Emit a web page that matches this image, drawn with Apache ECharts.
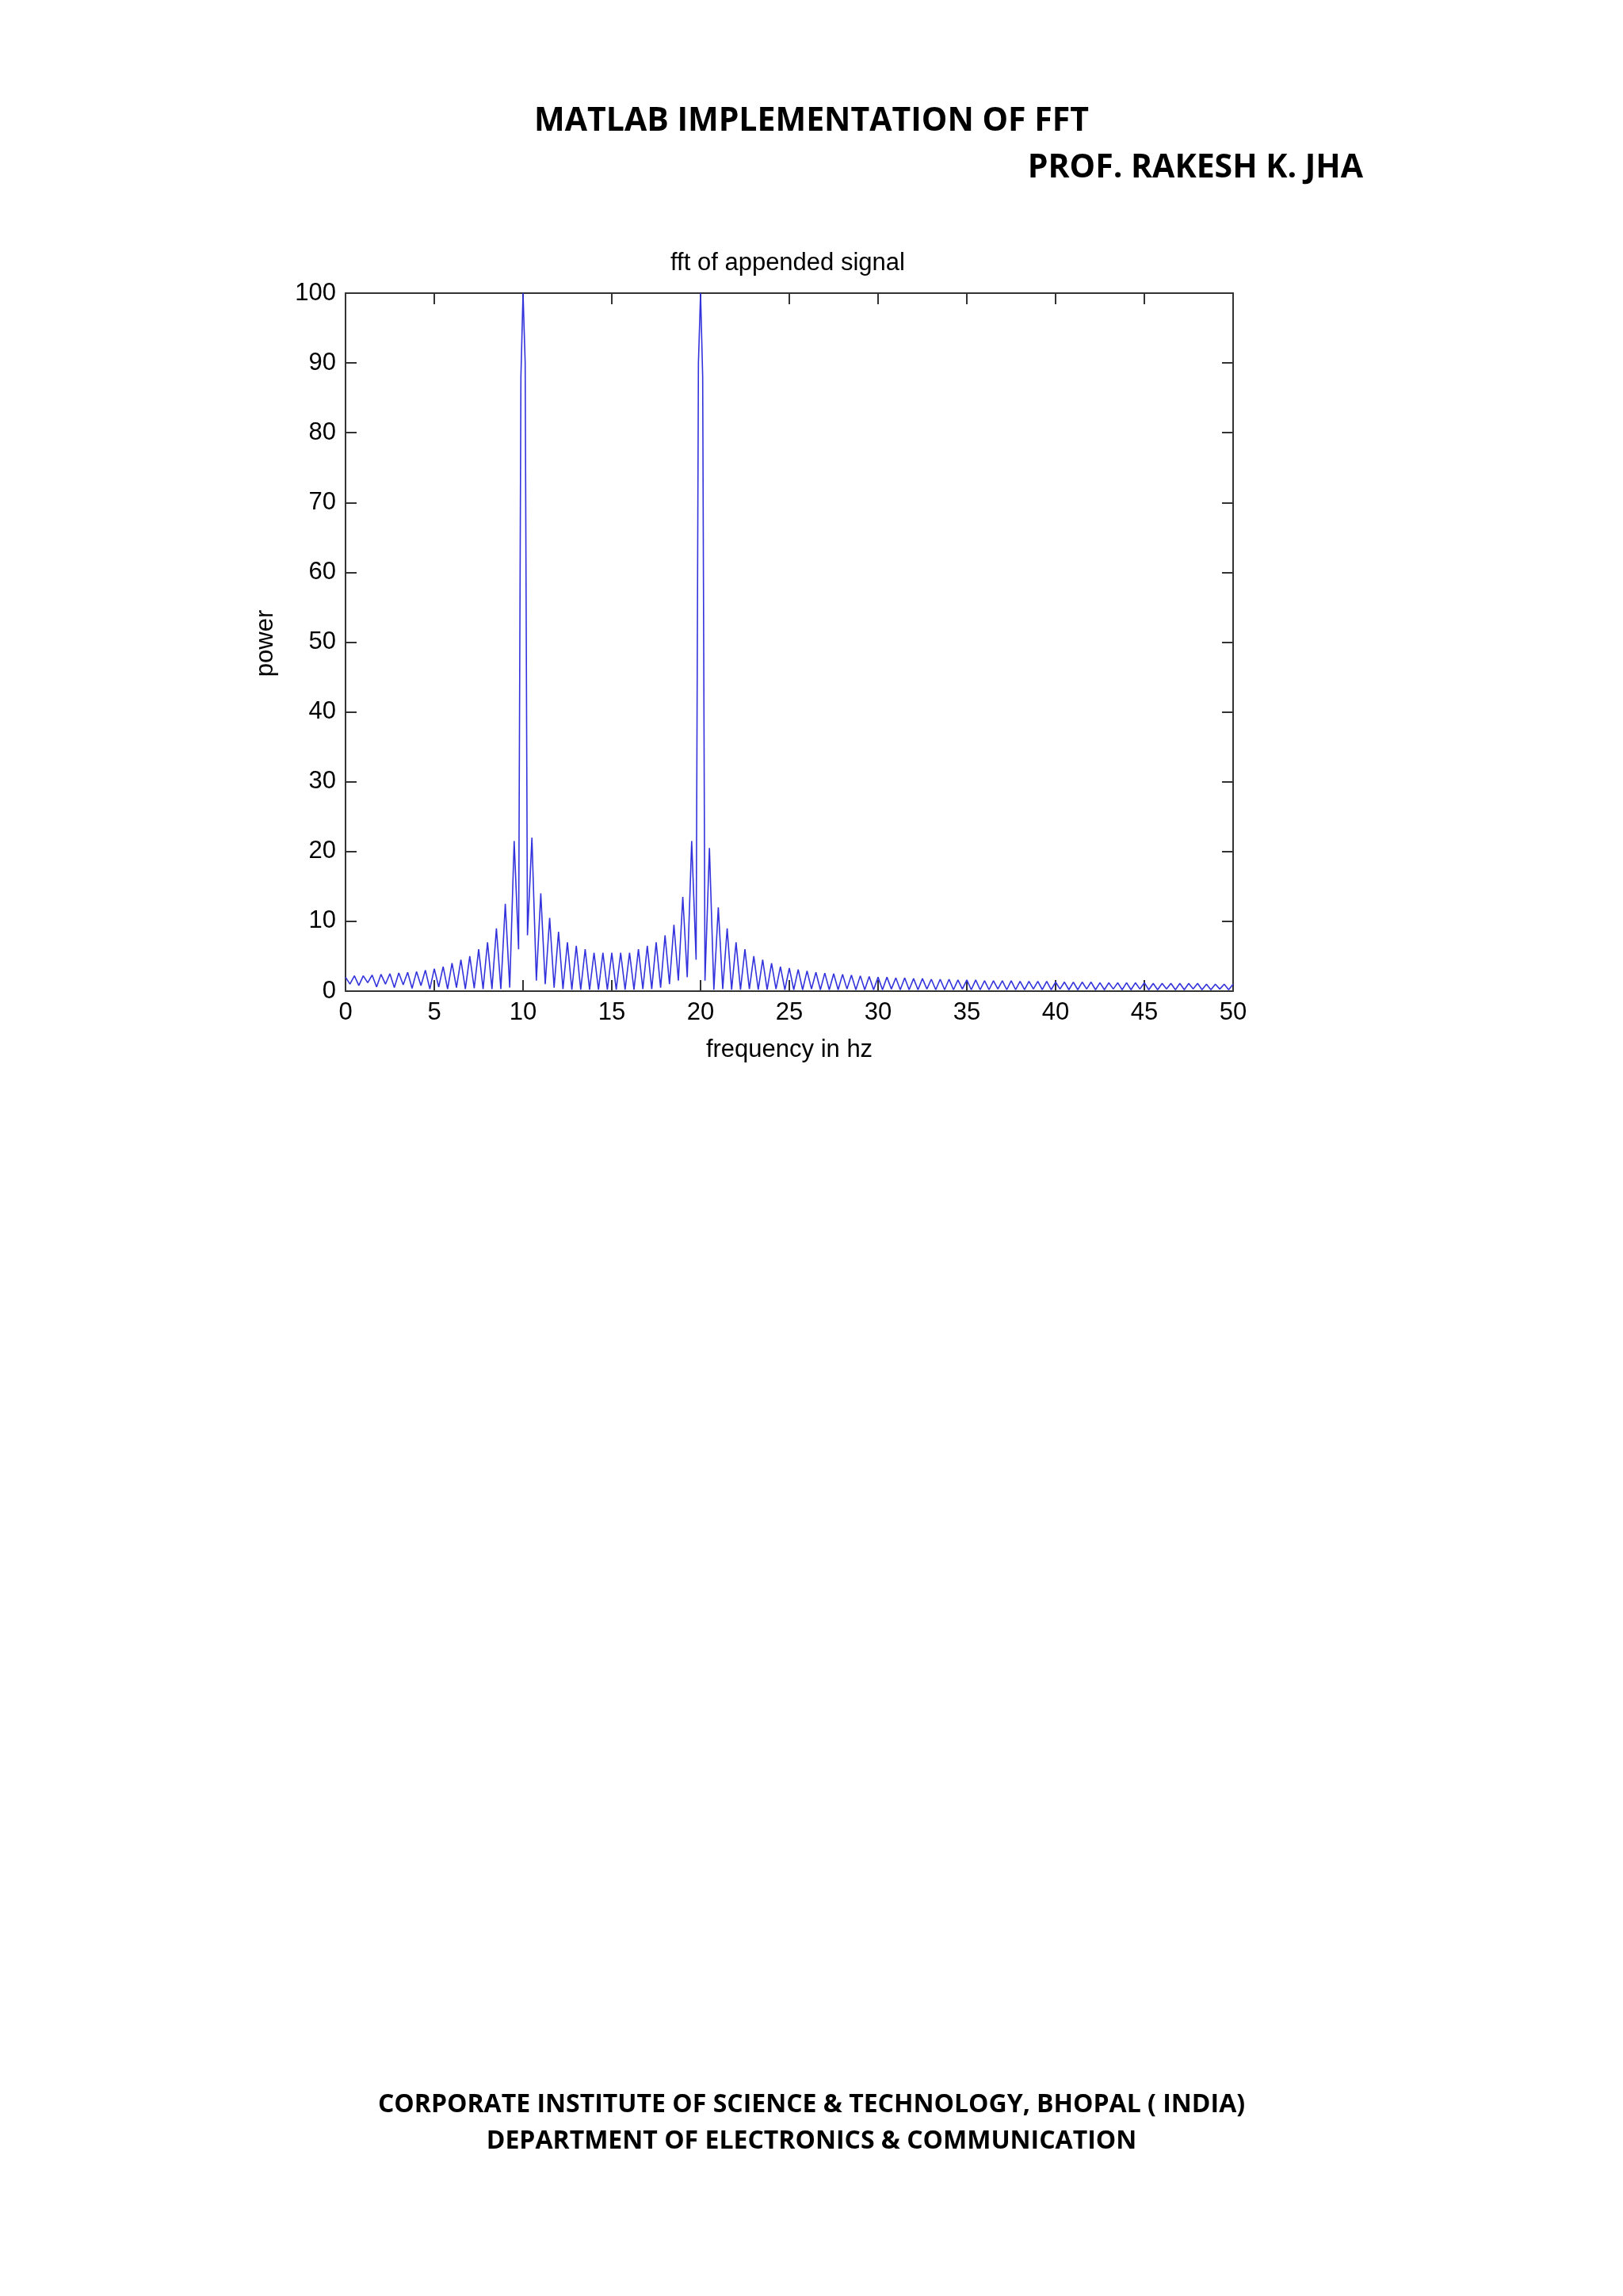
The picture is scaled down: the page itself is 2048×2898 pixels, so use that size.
<!DOCTYPE html>
<html><head><meta charset="utf-8">
<script src="https://cdn.jsdelivr.net/npm/echarts@6/dist/echarts.min.js"></script>
<style>html,body{margin:0;padding:0;background:#fff}#c{width:2048px;height:2898px}</style>
</head><body><div id="c"></div>
<script>
// Peak amplitudes at 0, 0.5, 1.0 ... 50 Hz
const peaks = [
 2,2.2,2.2,2.3,2.4,2.5,2.6,2.7,2.8,3,3.2,3.5,4,4.5,5,6,7,9,12.5,21.5,100,
 22,14,10.5,8.5,7,6.5,6,5.5,5.5,5.5,5.5,5.5,6,6.5,7,8,9.5,13.5,21.5,100,
 20.5,12,9,7,6,5,4.5,4,3.5,3.3,3.1,2.9,2.7,2.6,2.5,2.4,2.3,2.2,2.1,2.0,
 2,1.9,1.9,1.8,1.8,1.7,1.7,1.7,1.6,1.6,1.6,1.5,1.5,1.5,1.5,1.4,1.4,1.4,1.4,1.3,
 1.3,1.3,1.3,1.3,1.2,1.2,1.2,1.2,1.2,1.2,1.1,1.1,1.1,1.1,1.1,1.1,1.0,1.0,1.0,1.0
];
// Null (dip) amplitudes at 0.25, 0.75 ... 49.75 Hz
const nulls = [
 1,0.8,1.2,0.6,1,0.5,0.9,0.4,0.8,0.3,0.6,0.3,0.5,0.3,0.4,0.3,0.3,0.3,0.5,6,
 8,1.5,1,0.5,0.3,0.2,0.2,0.2,0.2,0.2,0.2,0.2,0.2,0.3,0.3,0.5,1,1.5,2,4.5,
 1.5,0.2,0.3,0.2,0.2,0.3,0.2,0.2,0.3,0.2,0.2,0.2,0.3,0.2,0.2,0.2,0.3,0.2,0.2,0.2,
 0.2,0.3,0.2,0.2,0.2,0.3,0.2,0.2,0.2,0.3,0.2,0.2,0.2,0.3,0.2,0.2,0.2,0.3,0.2,0.2,
 0.3,0.2,0.2,0.3,0.2,0.2,0.3,0.2,0.2,0.3,0.2,0.2,0.3,0.2,0.2,0.3,0.2,0.2,0.3,0.2
];
// Main-lobe shoulder samples [freq, power]
const shoulders = [[9.88,88],[10.12,90],[19.88,90],[20.12,88]];
const xTicks = [0,5,10,15,20,25,30,35,40,45,50];
const yTicks = [0,10,20,30,40,50,60,70,80,90,100];

const data = [];
for (let i = 0; i < peaks.length; i++) {
  data.push([i*0.5, peaks[i]]);
  if (i < nulls.length) data.push([i*0.5+0.25, nulls[i]]);
}
shoulders.forEach(p => data.push(p));
data.sort((a,b)=>a[0]-b[0]);

const chart = echarts.init(document.getElementById('c'));
const tf = 'Liberation Sans, Arial, sans-serif';
const hf = '"Open Sans", "Noto Sans", sans-serif';
const ax = (pos, show) => ({
  type:'value', min:0, position:pos, splitLine:{show:false},
  axisLine:{show:true,onZero:false,lineStyle:{color:'#333',width:2}},
  axisTick:{show:true,inside:true,length:14,lineStyle:{color:'#333',width:2}},
  axisLabel:{show:show,color:'#000',fontFamily:tf,fontSize:31,margin:12}
});
chart.setOption({
  animation:false,
  backgroundColor:'#fff',
  graphic:[
    {type:'text',style:{x:1024,y:153,text:'MATLAB IMPLEMENTATION OF FFT',font:'bold 41px '+hf,fill:'#000',align:'center',verticalAlign:'middle'}},
    {type:'text',style:{x:1720,y:212,text:'PROF. RAKESH K. JHA',font:'bold 41px '+hf,fill:'#000',align:'right',verticalAlign:'middle'}},
    {type:'text',style:{x:1024,y:2657,text:'CORPORATE INSTITUTE OF SCIENCE & TECHNOLOGY, BHOPAL ( INDIA)',font:'bold 32px '+hf,fill:'#000',align:'center',verticalAlign:'middle'}},
    {type:'text',style:{x:1024,y:2703,text:'DEPARTMENT OF ELECTRONICS & COMMUNICATION',font:'bold 32px '+hf,fill:'#000',align:'center',verticalAlign:'middle'}},
    {type:'text',style:{x:994,y:332,text:'fft of appended signal',font:'31px '+tf,fill:'#000',align:'center',verticalAlign:'middle'}},
    {type:'text',style:{x:996,y:1325,text:'frequency in hz',font:'31px '+tf,fill:'#000',align:'center',verticalAlign:'middle'}},
    {type:'text',x:335,y:812,rotation:Math.PI/2,style:{x:0,y:0,text:'power',font:'31px '+tf,fill:'#000',align:'center',verticalAlign:'middle'}}
  ],
  grid:{left:436,right:492,top:370,bottom:1647},
  xAxis:[
    Object.assign(ax('bottom',true),{max:50,interval:5}),
    Object.assign(ax('top',false),{max:50,interval:5})
  ],
  yAxis:[
    Object.assign(ax('left',true),{max:100,interval:10}),
    Object.assign(ax('right',false),{max:100,interval:10})
  ],
  series:[{type:'line',data:data,showSymbol:false,lineStyle:{color:'#3333dd',width:1.6}}]
});
</script></body></html>
